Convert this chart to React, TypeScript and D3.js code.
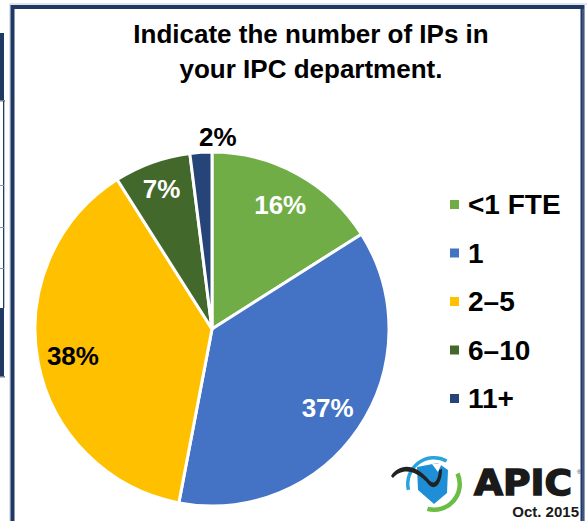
import { useEffect, useRef } from 'react';
import * as d3 from 'd3';

const categories = ['<1 FTE', '1', '2–5', '6–10', '11+'];
const shares = [16, 37, 38, 7, 2];
const colors = ['#70ad47', '#4472c4', '#ffc000', '#43682b', '#264478'];
const labelColors = ['#ffffff', '#ffffff', '#000000', '#ffffff', '#000000'];
const labelRadius = [0.8, 0.79, 0.8, 0.84, 1.09];
const labelDx = [0, 0, 0, 0, 18];
const titleLines = ['Indicate the number of IPs in', 'your IPC department.'];

const FONT = '"Liberation Sans", Arial, Helvetica, sans-serif';

function App() {
  const svgRef = useRef<SVGSVGElement>(null);

  useEffect(() => {
    const width = 587;
    const height = 521;
    const svg = d3.select(svgRef.current);
    svg.selectAll('*').remove();
    svg.attr('width', width).attr('height', height);

    // bits of the slide behind the frame (left edge)
    svg.append('rect').attr('x', 0).attr('y', 33).attr('width', 4).attr('height', 68).attr('fill', '#1f3864');
    svg.append('rect').attr('x', 0).attr('y', 100).attr('width', 5).attr('height', 1.5).attr('fill', '#7f7f7f');
    svg.append('rect').attr('x', 3).attr('y', 101).attr('width', 1.3).attr('height', 207).attr('fill', '#1f3864');
    [185, 227, 268].forEach(y => {
      svg.append('rect').attr('x', 0).attr('y', y).attr('width', 4).attr('height', 1).attr('fill', '#8a94a8');
    });
    svg.append('rect').attr('x', 0).attr('y', 308).attr('width', 4).attr('height', 69).attr('fill', '#1f3864');
    svg.append('rect').attr('x', 0).attr('y', 376).attr('width', 5).attr('height', 1.5).attr('fill', '#7f7f7f');

    // frame
    svg.append('rect').attr('x', 10).attr('y', 4).attr('width', 578).attr('height', 530)
      .attr('fill', '#ffffff').attr('stroke', '#c3cad8').attr('stroke-width', 1);
    svg.append('rect').attr('x', 12.5).attr('y', 7).attr('width', 570).attr('height', 530)
      .attr('fill', 'none').attr('stroke', '#1f3864').attr('stroke-width', 4);
    svg.append('rect').attr('x', 582).attr('y', 9).attr('width', 2).attr('height', 520).attr('fill', '#3e5585');

    // title
    const title = svg.append('text')
      .attr('text-anchor', 'middle')
      .attr('font-family', FONT)
      .attr('font-weight', 'bold')
      .attr('font-size', 26)
      .attr('fill', '#000');
    titleLines.forEach((line, i) => {
      title.append('tspan').attr('x', 311).attr('y', 43 + i * 35).text(line);
    });

    // pie
    const radius = 177;
    const g = svg.append('g').attr('transform', 'translate(212,329)');
    const pie = d3.pie<number>().sort(null).value(d => d);
    const arcs = pie(shares);
    const arc = d3.arc<d3.PieArcDatum<number>>().innerRadius(0).outerRadius(radius);

    g.selectAll('path.slice')
      .data(arcs)
      .join('path')
      .attr('class', 'slice')
      .attr('d', arc)
      .attr('fill', (d, i) => colors[i])
      .attr('stroke', '#fff')
      .attr('stroke-width', 3)
      .attr('stroke-linejoin', 'round');

    g.selectAll('text.lbl')
      .data(arcs)
      .join('text')
      .attr('class', 'lbl')
      .attr('transform', (d, i) => {
        const r = radius * labelRadius[i];
        const [x, y] = d3.arc<d3.PieArcDatum<number>>().innerRadius(r).outerRadius(r).centroid(d);
        return `translate(${x + labelDx[i]},${y})`;
      })
      .attr('text-anchor', 'middle')
      .attr('dy', '0.36em')
      .attr('font-family', FONT)
      .attr('font-weight', 'bold')
      .attr('font-size', 26)
      .attr('fill', (d, i) => labelColors[i])
      .text(d => `${d.data}%`);

    // legend
    const legendY = d3.scalePoint<string>().domain(categories).range([214, 408]);
    const legend = svg.append('g');
    const items = legend.selectAll('g')
      .data(categories)
      .join('g')
      .attr('transform', d => `translate(450,${legendY(d)})`);
    items.append('rect')
      .attr('x', 0).attr('y', -14).attr('width', 9).attr('height', 9)
      .attr('fill', (d, i) => colors[i]);
    items.append('text')
      .attr('x', 18)
      .attr('font-family', FONT)
      .attr('font-weight', 'bold')
      .attr('font-size', 28)
      .attr('fill', '#000')
      .text(d => d);

    // APIC logo
    const logo = svg.append('g').attr('transform', 'translate(434,484)');
    const ring = d3.arc<any>();
    logo.append('path')
      .attr('d', ring({ innerRadius: 24.5, outerRadius: 28, startAngle: -1.8, endAngle: 0.5 }))
      .attr('fill', '#29a3dd');
    logo.append('path')
      .attr('d', ring({ innerRadius: 23.5, outerRadius: 28, startAngle: 1.15, endAngle: 3.4 }))
      .attr('fill', '#6cbd45');
    logo.append('path')
      .attr('d', 'M-17,-17 L4,-21 L14,-14 L13,9 L0,20 L-16,6 Z')
      .attr('fill', '#1e8fd6');
    logo.append('path')
      .attr('d', 'M-2,-20 L8,-21 L4,-12 Z')
      .attr('fill', '#ffffff');
    logo.append('path')
      .attr('d', 'M-43,-8 C-35,-20 -20,-22 -4,-3 C1,1 4,-4 5,-14 L8,-15 C8,0 1,7 -5,1 C-19,-16 -33,-15 -41,-6 Z')
      .attr('fill', '#222');

    svg.append('text')
      .attr('x', 474).attr('y', 495)
      .attr('font-family', '"DejaVu Sans", sans-serif')
      .attr('font-weight', 'bold')
      .attr('font-size', 35)
      .attr('fill', '#1a1a1a')
      .attr('stroke', '#1a1a1a')
      .attr('stroke-width', 1.5)
      .attr('textLength', 98)
      .attr('lengthAdjust', 'spacingAndGlyphs')
      .text('APIC');
    svg.append('text')
      .attr('x', 577).attr('y', 474)
      .attr('font-family', FONT)
      .attr('font-size', 6)
      .attr('fill', '#333')
      .text('®');
    svg.append('text')
      .attr('x', 579).attr('y', 517)
      .attr('text-anchor', 'end')
      .attr('font-family', FONT)
      .attr('font-weight', 'bold')
      .attr('font-size', 15)
      .attr('fill', '#1a1a1a')
      .text('Oct. 2015');
  }, []);

  return (
    <div style={{ position: 'absolute', left: 0, top: 0 }}>
      <svg ref={svgRef} style={{ display: 'block' }}></svg>
    </div>
  );
}

export default App;
